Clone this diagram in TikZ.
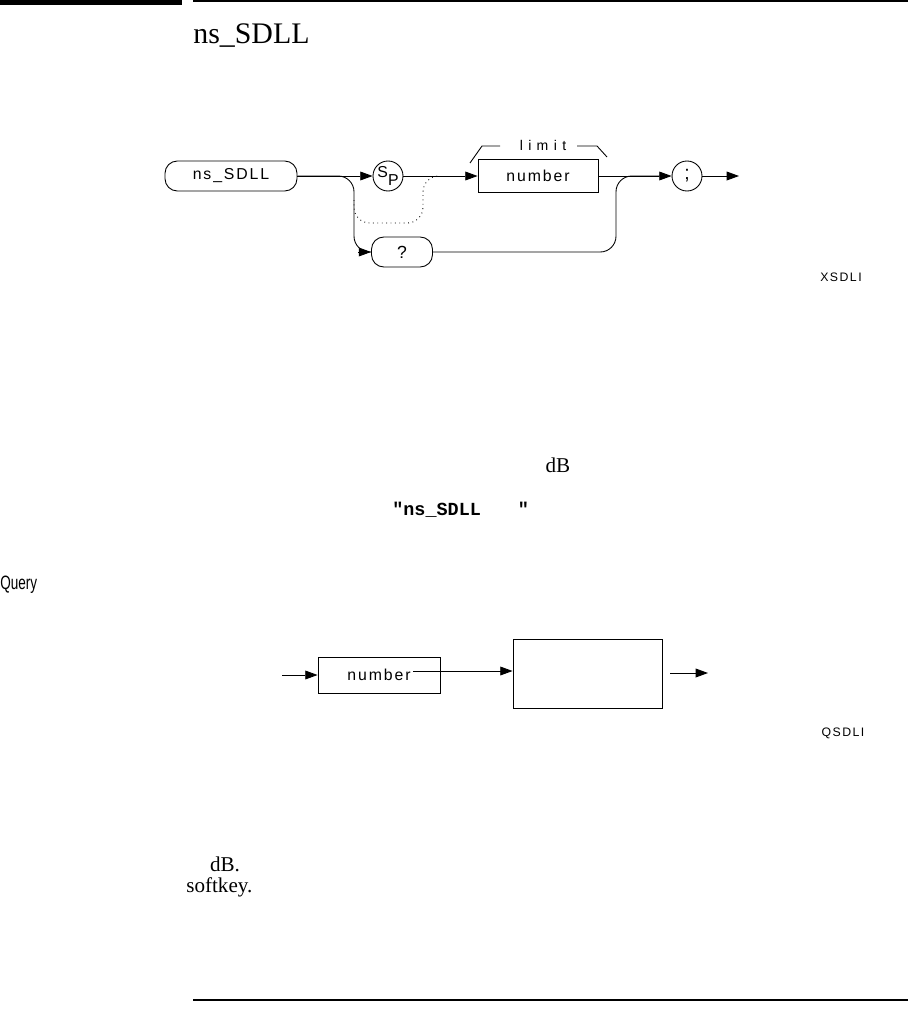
\documentclass[tikz,border=0pt]{standalone}
\usepackage{fontspec}
\setmainfont{Liberation Serif}
\setmonofont{Liberation Mono}
\newfontfamily\plotfont{Liberation Sans}[LetterSpace=12]
\newfontfamily\plotwide{Liberation Sans}[LetterSpace=38]
\newfontfamily\narrowfont{Liberation Sans}[FakeStretch=0.7]
\usetikzlibrary{arrows.meta}

\begin{document}
\begin{tikzpicture}[x=0.02cm, y=-0.02cm,
  % one unit is one pixel of the 908 x 1011 page, y runs downwards
  pillbox/.style={rectangle, draw, rounded corners=7pt, line width=0.5pt,
                  minimum width=#1, minimum height=0.6cm, inner sep=0pt,
                  font=\plotfont\fontsize{9}{10}\selectfont},
  ringbox/.style={circle, draw, line width=0.5pt, minimum size=0.6cm,
                  inner sep=0pt, font=\plotfont\fontsize{9}{10}\selectfont},
  sqbox/.style={rectangle, draw, line width=0.5pt, inner sep=0pt,
                font=\plotfont\fontsize{9}{10}\selectfont},
  arr/.style={-{Triangle[length=7pt, width=5pt]}, line width=0.5pt},
  wire/.style={line width=0.5pt, rounded corners=9pt},
  figtag/.style={font=\plotfont\fontsize{7}{8}\selectfont, inner sep=0pt},
  bodytext/.style={font=\fontsize{12}{14}\selectfont, inner sep=0pt}
]
\useasboundingbox (0,0) rectangle (908,1011);

% Page rules and heading
\draw[line width=2.4pt] (0,2.5) -- (182,2.5);
\draw[line width=1.1pt] (193,1) -- (908,1);
\draw[line width=0.6pt] (193,1000) -- (908,1000);
\node[anchor=base west, inner sep=0pt, font=\fontsize{17}{20}\selectfont] (title) at (193,43) {ns\_SDLL};

% Syntax diagram - nodes
\node[pillbox=2.64cm] (nsdll) at (231,176) {ns\_SDLL};
\node[ringbox] (sp) at (388,176) {\raisebox{2.5pt}{S}\raisebox{-2.5pt}{P}};
\node[sqbox, minimum width=2.4cm, minimum height=0.66cm] (number) at (538,176) {number};
\node[ringbox, font=\plotfont\fontsize{11}{12}\selectfont] (semi) at (687,176) {;};
\node[pillbox=1.22cm, font=\plotfont\fontsize{10}{11}\selectfont] (qmark) at (402,252) {?};
\node[font=\plotwide\fontsize{8}{9}\selectfont, inner sep=0pt] (limit) at (543,145) {limit};
\node[figtag] (xsdll) at (841,277) {XSDLI};

\coordinate (split)    at (354,176);
\coordinate (qturn)    at (358,252);
\coordinate (dotstart) at (354,200);
\coordinate (dotend)   at (440,176);
\coordinate (merge)    at (616,176);
\coordinate (exit)     at (739,176);

% Syntax diagram - paths
\draw[arr] (nsdll.east) -- (sp.west);
\draw[wire] (nsdll.east) -- (split) |- (qmark.west);
\draw[arr] (qturn) -- (qmark.west);
\draw[wire, dotted] (dotstart) |- (423,223) |- (dotend);
\draw[arr] (sp.east) -- (number.west);
\draw[arr] (number.east) -- (semi.west);
\draw[wire, shorten >=6pt] (qmark.east) -| (merge) -- (semi.west);
\draw[arr] (semi.east) -- (exit);

% limit bracket
\draw[line width=0.5pt] (470,163) -- (482,146) -- (500,146);
\draw[line width=0.5pt] (577,146) -- (597,146) -- (607,157);

% Side label and text lines
\node[anchor=west, font=\narrowfont\fontsize{11}{13}\selectfont, inner sep=0pt] (query) at (0,585) {Query};
\node[bodytext] (db1) at (558,465) {dB};
\node[bodytext, anchor=west, font=\ttfamily\bfseries\fontsize{10.5}{12}\selectfont] (quote) at (392,510) {"ns\_SDLL\hspace{2em}"};

% Query diagram
\node[sqbox, minimum width=2.44cm, minimum height=0.72cm] (num2) at (379,675) {number};
\node[sqbox, minimum width=2.98cm, minimum height=1.38cm] (respbox) at (587.5,673.5) {};
\node[figtag] (qsdll) at (843,733) {QSDLI};

\coordinate (entry)   at (282,675);
\coordinate (numtail) at (413,671);
\coordinate (outa)    at (670,673);
\coordinate (outb)    at (708,673);

\draw[arr] (entry) -- (num2.west);
\draw[arr] (numtail) -- (numtail -| respbox.west);
\draw[arr] (outa) -- (outb);

% Closing text
\node[bodytext] (db2) at (225,864) {dB.};
\node[bodytext, anchor=west] (softkey) at (186,887) {softkey.};

\end{tikzpicture}
\end{document}
